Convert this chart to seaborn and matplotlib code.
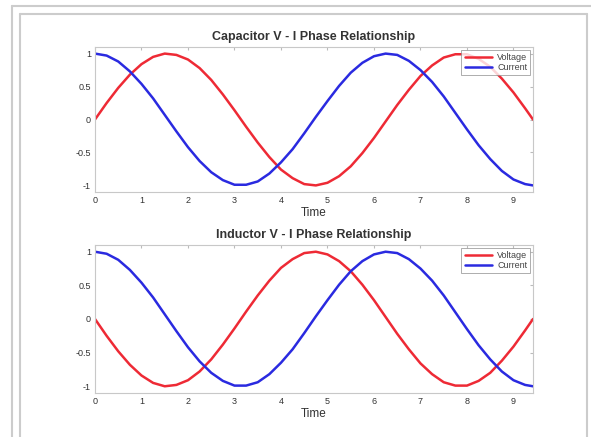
import matplotlib
matplotlib.use("Agg")
import matplotlib.pyplot as plt
import seaborn as sns
import pandas as pd
from matplotlib.lines import Line2D

# values
time = [0, 0.25, 0.5, 0.75, 1.0, 1.25, 1.5, 1.75, 2.0, 2.25, 2.5, 2.75, 3.0,
        3.25, 3.5, 3.75, 4.0, 4.25, 4.5, 4.75, 5.0, 5.25, 5.5, 5.75, 6.0,
        6.25, 6.5, 6.75, 7.0, 7.25, 7.5, 7.75, 8.0, 8.25, 8.5, 8.75, 9.0,
        9.25, 9.42]

cap_voltage = [0.00, 0.25, 0.48, 0.68, 0.84, 0.95, 1.00, 0.98, 0.91, 0.78,
               0.60, 0.38, 0.14, -0.11, -0.35, -0.57, -0.76, -0.89, -0.98,
               -1.00, -0.96, -0.86, -0.71, -0.51, -0.28, -0.03, 0.22, 0.45,
               0.66, 0.82, 0.94, 0.99, 0.99, 0.92, 0.80, 0.62, 0.41, 0.17, 0.00]

cap_current = [1.00, 0.97, 0.88, 0.73, 0.54, 0.32, 0.07, -0.18, -0.42, -0.63,
               -0.80, -0.92, -0.99, -0.99, -0.94, -0.82, -0.65, -0.45, -0.21,
               0.04, 0.28, 0.51, 0.71, 0.86, 0.96, 1.00, 0.98, 0.89, 0.75,
               0.57, 0.35, 0.10, -0.15, -0.39, -0.60, -0.78, -0.91, -0.98, -1.00]

ind_voltage = [0.00, -0.25, -0.48, -0.68, -0.84, -0.95, -1.00, -0.98, -0.91,
               -0.78, -0.60, -0.38, -0.14, 0.11, 0.35, 0.57, 0.76, 0.89, 0.98,
               1.00, 0.96, 0.86, 0.71, 0.51, 0.28, 0.03, -0.22, -0.45, -0.66,
               -0.82, -0.94, -0.99, -0.99, -0.92, -0.80, -0.62, -0.41, -0.17, 0.00]

ind_current = cap_current

titles = ["Capacitor V - I Phase Relationship", "Inductor V - I Phase Relationship"]
xticks = [0, 1, 2, 3, 4, 5, 6, 7, 8, 9]
yticks = [-1, -0.5, 0, 0.5, 1]
ytick_labels = ["-1", "-0.5", "0", "0.5", "1"]

sns.set_style("white")
plt.rcParams['font.family'] = ['Liberation Sans', 'DejaVu Sans']

fig = plt.figure(figsize=(5.91, 4.37), dpi=100)
W, H = 591, 437

def px_axes(l, t, r, b):
    return fig.add_axes([l / W, 1 - b / H, (r - l) / W, (b - t) / H])

ax1 = px_axes(95, 47, 533, 192)
ax2 = px_axes(95, 245, 533, 393)

sets = [(ax1, cap_voltage, cap_current), (ax2, ind_voltage, ind_current)]
for i, (ax, v, c) in enumerate(sets):
    df = pd.DataFrame({'Time': time, 'Voltage': v, 'Current': c})
    sns.lineplot(data=df, x='Time', y='Voltage', ax=ax, color='#ee2a35',
                 linewidth=1.8, label='Voltage')
    sns.lineplot(data=df, x='Time', y='Current', ax=ax, color='#2a2ae0',
                 linewidth=1.8, label='Current')
    ax.set_xlim(0, 9.42)
    ax.set_ylim(-1.1, 1.1)
    ax.set_xticks(xticks)
    ax.set_yticks(yticks)
    ax.set_yticklabels(ytick_labels)
    ax.tick_params(axis='both', labelsize=6.5, length=2, direction='in',
                   colors='#bbbbbb', labelcolor='#333333', pad=3,
                   top=True, right=True)
    for s in ax.spines.values():
        s.set_color('#c8c8c8')
        s.set_linewidth(0.8)
    ax.set_ylabel('')
    ax.set_xlabel('Time', fontsize=8.5, color='#333333', labelpad=1)
    ax.set_title(titles[i], fontsize=9, fontweight='bold', color='#333333', pad=5)
    leg = ax.legend(loc='upper right', fontsize=6.5, frameon=True, fancybox=False,
                    borderpad=0.35, labelspacing=0.15, handlelength=3.0,
                    handletextpad=0.6, borderaxespad=0.3)
    leg.get_frame().set_edgecolor('#888888')
    leg.get_frame().set_linewidth(0.6)
    for t in leg.get_texts():
        t.set_color('#444444')

# light grey page frame round the picture
frame = [((12, 12), (437, 6)), ((12, 600), (6, 6)),
         ((20, 20), (437, 14)), ((20, 587), (14, 14)), ((587, 587), (14, 437))]
for xs, ys in frame:
    fig.add_artist(Line2D([x / W for x in xs], [1 - y / H for y in ys],
                          color='#cccccc', linewidth=1.5))

fig.savefig("out.png", dpi=100)
